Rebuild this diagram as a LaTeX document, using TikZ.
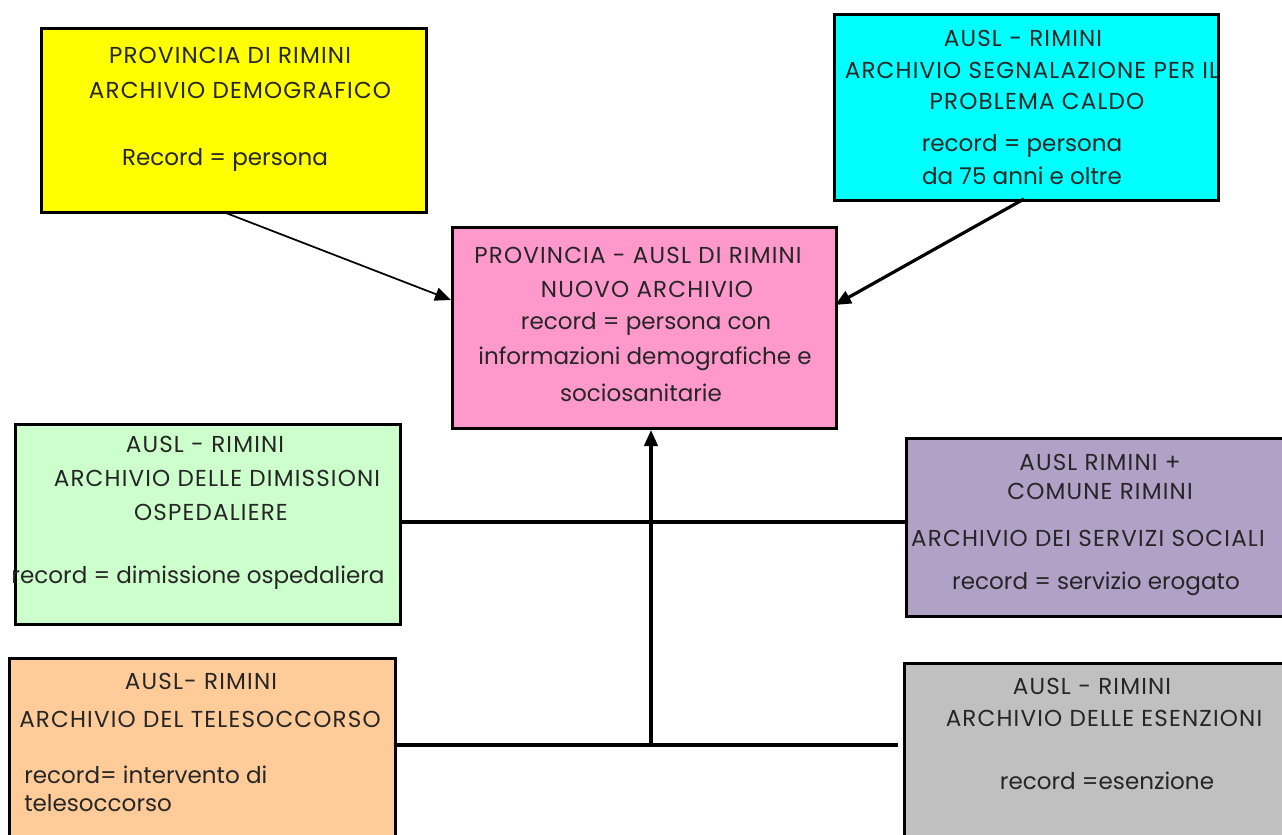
\documentclass[tikz,border=0pt]{standalone}
\usepackage{fontspec}
\setmainfont{Poppins}
\usetikzlibrary{arrows.meta}
\definecolor{cYellow}{RGB}{255,255,0}
\definecolor{cCyan}{RGB}{0,255,255}
\definecolor{cPink}{RGB}{255,153,204}
\definecolor{cGreen}{RGB}{204,255,204}
\definecolor{cPurple}{RGB}{178,161,199}
\definecolor{cOrange}{RGB}{255,204,153}
\definecolor{cGray}{RGB}{192,192,192}
\tikzset{
  archbox/.style={draw=black, line width=2.5pt, anchor=north west, inner sep=0pt},
  txt/.style={inner sep=0pt, font=\fontsize{17.3}{20}\selectfont, text=black!85},
  capline/.style={txt, font=\fontsize{17.3}{20}\selectfont\addfontfeature{LetterSpace=5}},
  conn/.style={line width=2.4pt, draw=black},
  tip/.style={-{Triangle[length=12pt,width=10pt]}},
}
\begin{document}
\begin{tikzpicture}[x=0.75pt,y=-0.75pt]
\useasboundingbox (0,0) rectangle (1282,835);
% boxes
\node[archbox, fill=cYellow, minimum width={385*0.75pt}, minimum height={184*0.75pt}] (yel) at (40,27) {};
\node[archbox, fill=cCyan, minimum width={384*0.75pt}, minimum height={186*0.75pt}] (cya) at (833,13) {};
\node[archbox, fill=cPink, minimum width={384*0.75pt}, minimum height={201*0.75pt}] (pnk) at (451,226) {};
\node[archbox, fill=cGreen, minimum width={385*0.75pt}, minimum height={200*0.75pt}] (grn) at (14,423) {};
\node[archbox, fill=cPurple, minimum width={400*0.75pt}, minimum height={178*0.75pt}] (pur) at (905,437) {};
\node[archbox, fill=cOrange, minimum width={386*0.75pt}, minimum height={200*0.75pt}] (org) at (8,657) {};
\node[archbox, fill=cGray, minimum width={400*0.75pt}, minimum height={200*0.75pt}] (gry) at (903,662) {};
% texts yellow
\node[capline] (y1) at (230,55) {PROVINCIA DI RIMINI};
\node[capline] (y2) at (240,90) {ARCHIVIO DEMOGRAFICO};
\node[txt] (y3) at (225,160) {Record = persona};
% cyan
\node[capline] (c1) at (1023,38) {AUSL - RIMINI};
\node[capline] (c2) at (1032,70) {ARCHIVIO SEGNALAZIONE PER IL};
\node[capline] (c3) at (1037,101) {PROBLEMA CALDO};
\node[txt] (c4) at (1022,146) {record = persona};
\node[txt] (c5) at (1022,176) {da 75 anni e oltre};
% pink
\node[capline] (p1) at (638,255) {PROVINCIA - AUSL DI RIMINI};
\node[capline] (p2) at (647,289) {NUOVO ARCHIVIO};
\node[txt] (p3) at (646,324) {record = persona con};
\node[txt] (p4) at (645,359) {informazioni demografiche e};
\node[txt] (p5) at (641,393) {sociosanitarie};
% green
\node[capline] (g1) at (205,444) {AUSL - RIMINI};
\node[capline] (g2) at (217,478) {ARCHIVIO DELLE DIMISSIONI};
\node[capline] (g3) at (211,512) {OSPEDALIERE};
\node[txt] (g4) at (198,578) {record = dimissione ospedaliera};
% purple
\node[capline] (u1) at (1100,462) {AUSL RIMINI +};
\node[capline] (u2) at (1100,491) {COMUNE RIMINI};
\node[capline] (u3) at (1088,538) {ARCHIVIO DEI SERVIZI SOCIALI};
\node[txt] (u4) at (1096,584) {record = servizio erogato};
% orange
\node[capline] (o1) at (201,681) {AUSL- RIMINI};
\node[capline] (o2) at (200,719) {ARCHIVIO DEL TELESOCCORSO};
\node[txt, anchor=west] (o3) at (24,775) {record= intervento di};
\node[txt, anchor=west] (o4) at (24,803) {telesoccorso};
% gray
\node[capline] (r1) at (1092,686) {AUSL - RIMINI};
\node[capline] (r2) at (1104,718) {ARCHIVIO DELLE ESENZIONI};
\node[txt] (r3) at (1107,781) {record =esenzione};
% connectors
\coordinate (ys) at (226,213);
\coordinate (pl) at (451,300);
\coordinate (cs) at (1024,199);
\coordinate (pr) at (835,305);
\coordinate (ol) at (394,745);
\coordinate (gl) at (898,745);
\coordinate (hub) at (651,745);
\coordinate (pb) at (651,430);
\draw[line width=1.3pt, tip] (ys) -- (pl);
\draw[conn, tip] (cs) -- (pr);
\draw[conn] (grn.east |- 0,522) -- (pur.west |- 0,522);
\draw[conn] (ol) -- (gl);
\draw[conn, tip] (hub) -- (pb);
\end{tikzpicture}
\end{document}
